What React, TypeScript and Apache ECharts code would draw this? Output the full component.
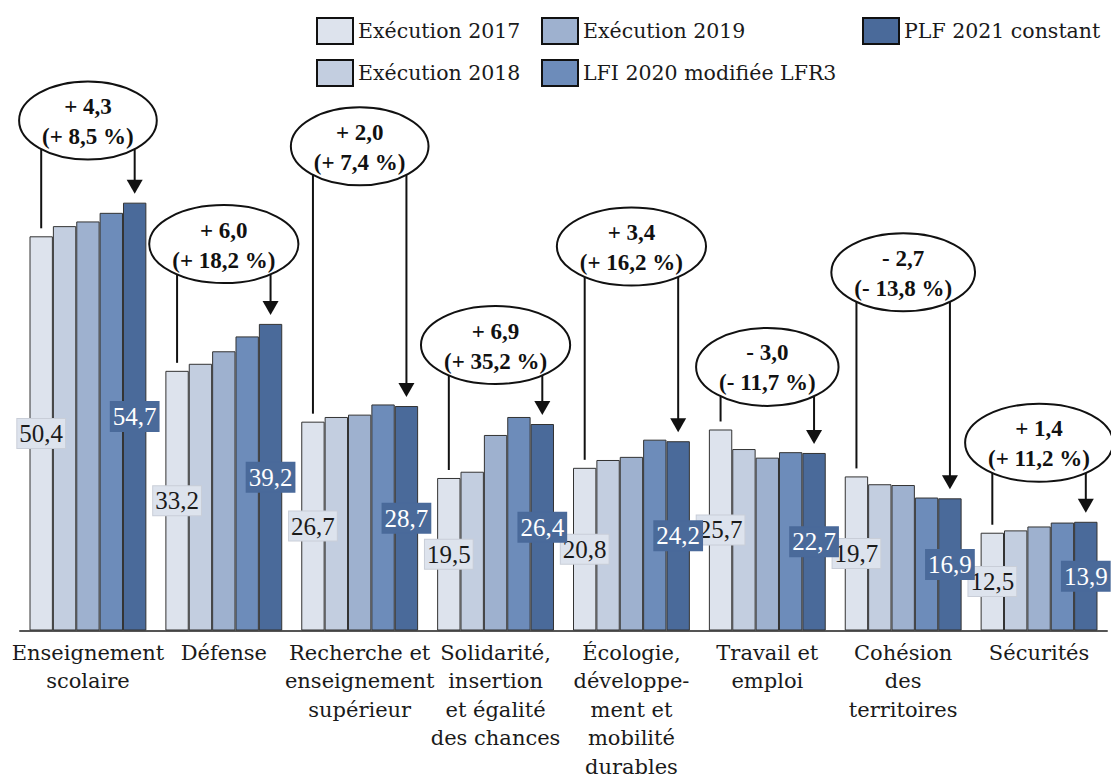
import React, { useEffect, useRef } from "react";
import * as echarts from "echarts";

const categories = [
  "Enseignement\nscolaire",
  "Défense",
  "Recherche et\nenseignement\nsupérieur",
  "Solidarité,\ninsertion\net égalité\ndes chances",
  "Écologie,\ndéveloppe-\nment et\nmobilité\ndurables",
  "Travail et\nemploi",
  "Cohésion\ndes\nterritoires",
  "Sécurités",
];
const seriesNames = [
  "Exécution 2017",
  "Exécution 2018",
  "Exécution 2019",
  "LFI 2020 modifiée LFR3",
  "PLF 2021 constant",
];
const exec2017 = [50.4, 33.2, 26.7, 19.5, 20.8, 25.7, 19.7, 12.5];
const exec2018 = [51.7, 34.1, 27.3, 20.3, 21.8, 23.2, 18.7, 12.8];
const exec2019 = [52.3, 35.7, 27.6, 25.0, 22.2, 22.1, 18.6, 13.3];
const lfi2020 = [53.4, 37.6, 28.9, 27.3, 24.4, 22.8, 17.0, 13.8];
const plf2021 = [54.7, 39.2, 28.7, 26.4, 24.2, 22.7, 16.9, 13.9];
const deltas = [4.3, 6.0, 2.0, 6.9, 3.4, -3.0, -2.7, 1.4];
const deltaPct = [8.5, 18.2, 7.4, 35.2, 16.2, -11.7, -13.8, 11.2];
// vertical level (in value units) of the centre of each annotation bubble
const bubbleLevels = [65.2, 49.4, 61.9, 36.5, 49.1, 33.7, 45.8, 24.0];

const colors = ["#dde3ed", "#c3cee0", "#9eb1cf", "#6d8cba", "#4a6a9a"];
const FONT = "DejaVu Serif";
const NUMFONT = "Liberation Serif";
const GAP = 0.14;
const BUBBLE_FONT = `bold 23px "${NUMFONT}"`;

const fmt = (v: number) => Math.abs(v).toFixed(1).replace(".", ",");
const sign = (v: number) => (v < 0 ? "-" : "+");

let measureCtx: CanvasRenderingContext2D | null = null;
const textWidth = (t: string, font: string) => {
  if (!measureCtx) measureCtx = document.createElement("canvas").getContext("2d");
  if (!measureCtx) return t.length * 11;
  measureCtx.font = font;
  return measureCtx.measureText(t).width;
};

export default function App() {
  const ref = useRef<HTMLDivElement>(null);
  useEffect(() => {
    document.body.style.margin = "0";
    const chart = echarts.init(ref.current!, null, { renderer: "svg" });
    const all = [exec2017, exec2018, exec2019, lfi2020, plf2021];
    const barSeries = all.map((d, k) => ({
      name: seriesNames[k],
      type: "bar",
      data: d,
      barGap: "0%",
      barCategoryGap: GAP * 100 + "%",
      itemStyle: { color: colors[k], borderColor: "#333", borderWidth: 1 },
      label:
        k === 0 || k === 4
          ? {
              show: true,
              position: "inside",
              formatter: (p: any) => fmt(p.value),
              fontFamily: NUMFONT,
              fontSize: 25,
              color: k === 0 ? "#1a1a1a" : "#ffffff",
              backgroundColor: k === 0 ? "#dde3ed" : "#4a6a9a",
              borderColor: k === 0 ? "#c9ced8" : "#4a6a9a",
              borderWidth: 1,
              padding: [3, 2, 1, 2],
            }
          : { show: false },
      z: 2,
    }));

    const annData = categories.map((_, i) => [i, bubbleLevels[i], exec2017[i], plf2021[i], i]);
    const annSeries = {
      type: "custom",
      data: annData,
      encode: { x: 0, y: 1 },
      z: 10,
      silent: true,
      renderItem: (params: any, api: any) => {
        const i = api.value(0);
        const level = api.value(1);
        const v0 = api.value(2);
        const v4 = api.value(3);
        const idx = api.value(4);
        const [cx, cy] = api.coord([i, level]);
        const bw = api.size([1, 0])[0];
        const group = bw * (1 - GAP);
        const w = group / 5;
        const xL = cx - group / 2 + w / 2;
        const xR = cx + group / 2 - w / 2;
        const yL = api.coord([i, v0])[1];
        const yR = api.coord([i, v4])[1];
        const t1 = `${sign(deltas[idx])} ${fmt(deltas[idx])}`;
        const t2 = `(${sign(deltaPct[idx])} ${fmt(deltaPct[idx])} %)`;
        const tw = Math.max(textWidth(t1, BUBBLE_FONT), textWidth(t2, BUBBLE_FONT));
        const rx = tw / 2 + 23;
        const ry = 39;
        const dyAt = (x: number) => {
          const r = (x - cx) / rx;
          return ry * Math.sqrt(Math.max(0, 1 - r * r));
        };
        const yLs = cy + dyAt(xL);
        const yRs = cy + dyAt(xR);
        const tipY = yR - 9;
        const headH = 14;
        const headW = 8;
        return {
          type: "group",
          children: [
            {
              type: "line",
              shape: { x1: xL, y1: yLs, x2: xL, y2: yL - 8 },
              style: { stroke: "#111", lineWidth: 2 },
            },
            {
              type: "line",
              shape: { x1: xR, y1: yRs, x2: xR, y2: tipY - headH + 2 },
              style: { stroke: "#111", lineWidth: 2 },
            },
            {
              type: "polygon",
              shape: {
                points: [
                  [xR - headW, tipY - headH],
                  [xR + headW, tipY - headH],
                  [xR, tipY],
                ],
              },
              style: { fill: "#111" },
            },
            {
              type: "ellipse",
              shape: { cx, cy, rx, ry },
              style: { fill: "#fff", stroke: "#111", lineWidth: 2 },
            },
            {
              type: "text",
              style: {
                text: t1,
                x: cx,
                y: cy - 14,
                textAlign: "center",
                textVerticalAlign: "middle",
                font: BUBBLE_FONT,
                fill: "#111",
              },
            },
            {
              type: "text",
              style: {
                text: t2,
                x: cx,
                y: cy + 16,
                textAlign: "center",
                textVerticalAlign: "middle",
                font: BUBBLE_FONT,
                fill: "#111",
              },
            },
          ],
        };
      },
    };

    const legendBase = {
      orient: "vertical",
      top: 12,
      itemWidth: 36,
      itemHeight: 26,
      itemGap: 14,
      icon: "rect",
      itemStyle: { borderColor: "#111", borderWidth: 2 },
      textStyle: { fontFamily: FONT, fontSize: 20.5, color: "#1a1a1a" },
      selectedMode: false,
    };

    chart.setOption({
      animation: false,
      grid: { left: 20, right: 4, top: 83, bottom: 147 },
      legend: [
        { ...legendBase, left: 311, data: [seriesNames[0], seriesNames[1]] },
        { ...legendBase, left: 536, data: [seriesNames[2], seriesNames[3]] },
        { ...legendBase, left: 857, data: [seriesNames[4]] },
      ],
      xAxis: {
        type: "category",
        data: categories,
        axisLine: { lineStyle: { color: "#555", width: 2 } },
        axisTick: { show: false },
        axisLabel: {
          interval: 0,
          hideOverlap: false,
          fontFamily: FONT,
          fontSize: 21,
          lineHeight: 28.5,
          color: "#1a1a1a",
          margin: 8,
        },
      },
      yAxis: {
        type: "value",
        min: 0,
        max: 70,
        show: false,
        splitLine: { show: false },
      },
      series: [...barSeries, annSeries],
    });
    return () => chart.dispose();
  }, []);
  return <div ref={ref} style={{ width: 1111, height: 781 }} />;
}
